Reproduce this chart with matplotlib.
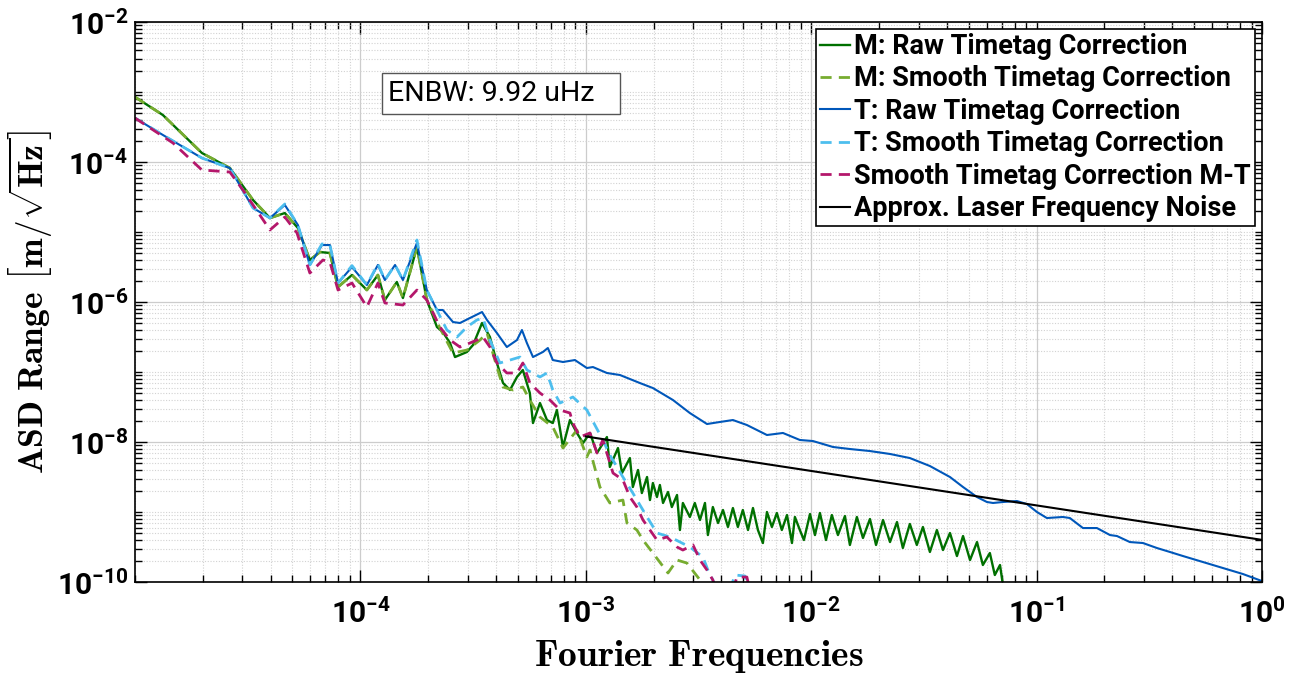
import numpy as np
import matplotlib.pyplot as plt
from matplotlib.patches import Rectangle
from matplotlib.ticker import FixedLocator, FixedFormatter, LogLocator, NullFormatter

# =============================================================================
# DATA  (each pair = (log10 f [Hz], log10 ASD [m/rtHz]))
# =============================================================================
m_raw = [
    (-5.000, -3.071), (-4.876, -3.329), (-4.703, -3.871), (-4.579, -4.086), (-4.476, -4.543),
    (-4.401, -4.800), (-4.335, -4.729), (-4.277, -4.943), (-4.224, -5.400), (-4.179, -5.286),
    (-4.135, -5.300), (-4.099, -5.786), (-4.037, -5.614), (-3.971, -5.829), (-3.922, -5.614),
    (-3.891, -5.971), (-3.838, -5.714), (-3.811, -5.943), (-3.749, -5.214), (-3.705, -5.971),
    (-3.660, -6.357), (-3.634, -6.429), (-3.602, -6.586), (-3.580, -6.786), (-3.527, -6.714),
    (-3.500, -6.614), (-3.460, -6.300), (-3.425, -6.500), (-3.394, -6.871), (-3.367, -7.157),
    (-3.336, -7.257), (-3.305, -7.071), (-3.279, -6.971), (-3.248, -7.300), (-3.234, -7.729),
    (-3.203, -7.443), (-3.172, -7.686), (-3.146, -7.729), (-3.128, -7.543), (-3.101, -8.071),
    (-3.070, -7.686), (-3.039, -7.871), (-3.012, -8.014), (-2.981, -7.871), (-2.950, -8.157),
    (-2.906, -7.929), (-2.893, -8.357), (-2.857, -8.086), (-2.839, -8.443), (-2.804, -8.229),
    (-2.791, -8.643), (-2.768, -8.400), (-2.751, -8.729), (-2.728, -8.500), (-2.715, -8.829),
    (-2.702, -8.586), (-2.684, -8.786), (-2.671, -8.614), (-2.657, -8.871), (-2.635, -8.714),
    (-2.618, -8.929), (-2.595, -8.757), (-2.582, -9.257), (-2.569, -8.871), (-2.538, -9.071),
    (-2.516, -8.871), (-2.493, -9.114), (-2.471, -8.871), (-2.458, -9.329), (-2.436, -8.929),
    (-2.413, -9.157), (-2.391, -8.971), (-2.369, -9.214), (-2.347, -8.943), (-2.325, -9.214),
    (-2.303, -8.971), (-2.280, -9.257), (-2.258, -8.943), (-2.236, -9.257), (-2.214, -9.443),
    (-2.196, -9.000), (-2.174, -9.214), (-2.152, -9.014), (-2.130, -9.257), (-2.107, -9.043),
    (-2.085, -9.443), (-2.072, -9.071), (-2.050, -9.257), (-2.032, -9.400), (-2.005, -9.029),
    (-1.983, -9.329), (-1.961, -9.014), (-1.934, -9.400), (-1.908, -9.043), (-1.881, -9.329),
    (-1.850, -9.057), (-1.828, -9.471), (-1.797, -9.071), (-1.770, -9.371), (-1.739, -9.100),
    (-1.712, -9.471), (-1.681, -9.114), (-1.650, -9.429), (-1.619, -9.143), (-1.593, -9.514),
    (-1.562, -9.171), (-1.531, -9.471), (-1.504, -9.214), (-1.473, -9.571), (-1.442, -9.257),
    (-1.415, -9.543), (-1.384, -9.300), (-1.353, -9.629), (-1.326, -9.343), (-1.295, -9.686),
    (-1.264, -9.429), (-1.238, -9.757), (-1.207, -9.586), (-1.185, -9.900), (-1.162, -9.757),
    (-1.149, -10.043), (-1.131, -10.114),
]

m_smooth = [
    (-5.000, -3.071), (-4.876, -3.329), (-4.703, -3.871), (-4.579, -4.086), (-4.476, -4.543),
    (-4.401, -4.800), (-4.335, -4.729), (-4.277, -4.943), (-4.224, -5.400), (-4.179, -5.286),
    (-4.135, -5.300), (-4.099, -5.786), (-4.037, -5.614), (-3.971, -5.829), (-3.922, -5.614),
    (-3.891, -5.971), (-3.838, -5.714), (-3.811, -5.943), (-3.749, -5.214), (-3.705, -5.971),
    (-3.647, -6.371), (-3.589, -6.729), (-3.527, -6.686), (-3.469, -6.543), (-3.438, -6.443),
    (-3.394, -6.929), (-3.367, -7.214), (-3.323, -7.257), (-3.279, -7.214), (-3.248, -7.400),
    (-3.203, -7.643), (-3.146, -7.786), (-3.101, -8.086), (-3.039, -7.829), (-2.995, -8.214),
    (-2.981, -8.114), (-2.937, -8.643), (-2.893, -8.871), (-2.835, -8.829), (-2.817, -9.157),
    (-2.773, -9.257), (-2.746, -9.400), (-2.702, -9.586), (-2.635, -9.871), (-2.595, -9.686),
    (-2.551, -9.729), (-2.493, -9.971), (-2.480, -10.014), (-2.471, -10.143),
]

t_raw = [
    (-5.000, -3.371), (-4.876, -3.614), (-4.703, -3.943), (-4.579, -4.086), (-4.476, -4.657),
    (-4.401, -4.800), (-4.335, -4.614), (-4.277, -4.900), (-4.224, -5.471), (-4.170, -5.186),
    (-4.135, -5.186), (-4.099, -5.729), (-4.037, -5.500), (-3.971, -5.757), (-3.922, -5.471),
    (-3.891, -5.686), (-3.846, -5.471), (-3.811, -5.686), (-3.749, -5.157), (-3.705, -5.829),
    (-3.660, -6.114), (-3.634, -6.114), (-3.589, -6.286), (-3.558, -6.300), (-3.514, -6.229),
    (-3.460, -6.143), (-3.438, -6.257), (-3.394, -6.443), (-3.350, -6.643), (-3.305, -6.543),
    (-3.283, -6.400), (-3.261, -6.586), (-3.234, -6.786), (-3.190, -6.714), (-3.168, -6.657),
    (-3.146, -6.829), (-3.101, -6.857), (-3.048, -6.829), (-2.995, -6.943), (-2.968, -6.929),
    (-2.906, -7.014), (-2.848, -7.043), (-2.760, -7.157), (-2.702, -7.229), (-2.613, -7.400),
    (-2.538, -7.586), (-2.462, -7.743), (-2.405, -7.714), (-2.347, -7.686), (-2.285, -7.757),
    (-2.196, -7.900), (-2.125, -7.871), (-2.050, -7.971), (-1.992, -7.986), (-1.903, -8.071),
    (-1.828, -8.100), (-1.739, -8.129), (-1.650, -8.171), (-1.562, -8.229), (-1.473, -8.343),
    (-1.384, -8.500), (-1.326, -8.643), (-1.264, -8.786), (-1.220, -8.857), (-1.193, -8.871),
    (-1.149, -8.857), (-1.087, -8.843), (-1.043, -8.886), (-0.998, -9.000), (-0.954, -9.086),
    (-0.883, -9.071), (-0.852, -9.086), (-0.794, -9.229), (-0.732, -9.229), (-0.674, -9.329),
    (-0.643, -9.343), (-0.586, -9.429), (-0.528, -9.443), (-0.466, -9.514), (-0.408, -9.571),
    (-0.350, -9.629), (-0.262, -9.714), (-0.173, -9.800), (-0.084, -9.886), (0.000, -9.986),
]

# nan pair = the curve leaves the plot below 1e-10 and comes back
t_smooth = [
    (-5.000, -3.371), (-4.876, -3.614), (-4.703, -3.943), (-4.579, -4.086), (-4.476, -4.657),
    (-4.401, -4.800), (-4.335, -4.600), (-4.277, -4.900), (-4.224, -5.471), (-4.170, -5.170),
    (-4.135, -5.186), (-4.099, -5.729), (-4.037, -5.480), (-3.971, -5.757), (-3.922, -5.455),
    (-3.891, -5.686), (-3.846, -5.471), (-3.811, -5.686), (-3.749, -5.114), (-3.705, -5.829),
    (-3.616, -6.400), (-3.571, -6.500), (-3.527, -6.357), (-3.483, -6.257), (-3.456, -6.229),
    (-3.425, -6.543), (-3.381, -6.871), (-3.336, -6.829), (-3.292, -6.786), (-3.261, -6.971),
    (-3.203, -7.071), (-3.172, -7.014), (-3.146, -7.257), (-3.114, -7.443), (-3.057, -7.357),
    (-2.995, -7.543), (-2.924, -7.971), (-2.893, -8.186), (-2.835, -8.500), (-2.791, -8.729),
    (-2.728, -9.071), (-2.684, -9.300), (-2.626, -9.357), (-2.538, -9.500), (-2.480, -9.643),
    (-2.458, -9.829), (-2.436, -9.971), (-2.422, -10.114), (np.nan, np.nan),
    (-2.360, -10.114), (-2.338, -9.900), (-2.294, -9.914), (-2.272, -10.114),
]

mt_smooth = [
    (-5.000, -3.371), (-4.831, -3.729), (-4.703, -4.114), (-4.579, -4.143), (-4.521, -4.400),
    (-4.401, -4.971), (-4.335, -4.786), (-4.281, -5.014), (-4.224, -5.586), (-4.166, -5.400),
    (-4.135, -5.429), (-4.099, -5.829), (-4.037, -5.729), (-3.971, -6.071), (-3.922, -5.729),
    (-3.891, -6.014), (-3.811, -6.043), (-3.749, -5.829), (-3.705, -5.971), (-3.647, -6.357),
    (-3.602, -6.543), (-3.558, -6.643), (-3.514, -6.586), (-3.483, -6.543), (-3.456, -6.500),
    (-3.425, -6.643), (-3.394, -6.871), (-3.350, -7.014), (-3.305, -7.014), (-3.279, -6.871),
    (-3.248, -7.157), (-3.203, -7.300), (-3.159, -7.400), (-3.114, -7.543), (-3.070, -7.586),
    (-3.057, -7.729), (-3.026, -7.929), (-2.981, -7.871), (-2.950, -8.157), (-2.924, -7.971),
    (-2.879, -8.443), (-2.835, -8.543), (-2.804, -8.786), (-2.773, -8.929), (-2.746, -9.114),
    (-2.715, -9.257), (-2.684, -9.400), (-2.640, -9.357), (-2.595, -9.500), (-2.569, -9.543),
    (-2.524, -9.471), (-2.493, -9.686), (-2.462, -9.829), (-2.436, -9.971), (-2.422, -10.114),
    (np.nan, np.nan),
    (-2.347, -10.114), (-2.329, -9.929), (-2.285, -9.929), (-2.272, -10.114),
]

# Approx. laser frequency noise: straight line in log-log
laser_f = [1.0e-3, 1.0]
laser_asd = [1.2e-8, 4.0e-10]

labels = ["M: Raw Timetag Correction", "M: Smooth Timetag Correction",
          "T: Raw Timetag Correction", "T: Smooth Timetag Correction",
          "Smooth Timetag Correction M-T", "Approx. Laser Frequency Noise"]
colors = ["#007000", "#77AC30", "#0057BA", "#4DBEEE", "#B4176B", "black"]

x_ticks = [1e-4, 1e-3, 1e-2, 1e-1, 1e0]
x_tick_labels = [r"$10^{-4}$", r"$10^{-3}$", r"$10^{-2}$", r"$10^{-1}$", r"$10^{0}$"]
y_ticks = [1e-10, 1e-8, 1e-6, 1e-4, 1e-2]
y_tick_labels = [r"$10^{-10}$", r"$10^{-8}$", r"$10^{-6}$", r"$10^{-4}$", r"$10^{-2}$"]

enbw_text = "ENBW: 9.92 uHz"

# =============================================================================
# PLOT
# =============================================================================
plt.rcParams['font.family'] = ['Roboto', 'DejaVu Sans']
plt.rcParams['mathtext.fontset'] = 'custom'
plt.rcParams['mathtext.rm'] = 'Roboto:bold'
plt.rcParams['mathtext.it'] = 'Roboto:bold'
plt.rcParams['mathtext.bf'] = 'Roboto:bold'


def unlog(pairs):
    arr = np.array(pairs, dtype=float)
    return 10.0 ** arr[:, 0], 10.0 ** arr[:, 1]


fig = plt.figure(figsize=(13, 6.77), dpi=100)
ax = fig.add_axes([0.1038, 0.1403, 0.8669, 0.8272])

dash = (0, (4, 2.6))
ax.plot(*unlog(m_raw), color=colors[0], lw=1.7, label=labels[0])
ax.plot(*unlog(m_smooth), color=colors[1], lw=2.0, ls=dash, label=labels[1])
ax.plot(*unlog(t_raw), color=colors[2], lw=1.5, label=labels[2])
ax.plot(*unlog(t_smooth), color=colors[3], lw=2.0, ls=dash, label=labels[3])
ax.plot(*unlog(mt_smooth), color=colors[4], lw=2.0, ls=dash, label=labels[4])
ax.plot(laser_f, laser_asd, color=colors[5], lw=1.5, label=labels[5])

ax.set_xscale('log')
ax.set_yscale('log')
ax.set_xlim(1e-5, 1)
ax.set_ylim(1e-10, 1e-2)

ax.xaxis.set_major_locator(FixedLocator(x_ticks))
ax.xaxis.set_major_formatter(FixedFormatter(x_tick_labels))
ax.yaxis.set_major_locator(FixedLocator(y_ticks))
ax.yaxis.set_major_formatter(FixedFormatter(y_tick_labels))
for axis in (ax.xaxis, ax.yaxis):
    axis.set_minor_locator(LogLocator(base=10, subs=np.arange(1, 10), numticks=100))
    axis.set_minor_formatter(NullFormatter())

ax.tick_params(which='both', direction='in', top=True, right=True, width=1.0)
ax.tick_params(which='major', length=8.5, labelsize=21.5)
ax.tick_params(axis='x', which='major', pad=12)
ax.tick_params(axis='y', which='major', pad=5)
ax.tick_params(which='minor', length=5)

ax.grid(True, which='major', color='#cccccc', lw=0.9, ls='-')
ax.grid(True, which='minor', color='#d2d2d2', lw=0.8, ls=(0, (1, 1.5)))
ax.set_axisbelow(True)
for s in ax.spines.values():
    s.set_linewidth(1.2)

ax.set_xlabel(r"$\mathbf{Fourier\ Frequencies}$", fontsize=27, math_fontfamily='cm', labelpad=6)
ax.set_ylabel(r"$\mathbf{ASD\ Range}\ \left[\mathbf{m}/\sqrt{\mathbf{Hz}}\right]$",
              fontsize=25.5, math_fontfamily='cm', labelpad=1)

# ENBW annotation box
ax.add_patch(Rectangle((0.2192, 0.8357), 0.2111, 0.0732, transform=ax.transAxes,
                       fc='white', ec='#555555', lw=1.0, zorder=5))
ax.text(0.2245, 0.8723, enbw_text, transform=ax.transAxes, fontsize=20.5,
        va='center', ha='left', zorder=6)

leg = ax.legend(loc='upper right', bbox_to_anchor=(0.9938, 0.9875), borderaxespad=0,
                fancybox=False, edgecolor='black', framealpha=1,
                prop={'family': 'Roboto', 'weight': 'bold', 'size': 19.5},
                handlelength=1.1, handletextpad=0.15, labelspacing=0.2, borderpad=0.15)
leg.get_frame().set_linewidth(1.2)

fig.savefig("out.png", dpi=100)
